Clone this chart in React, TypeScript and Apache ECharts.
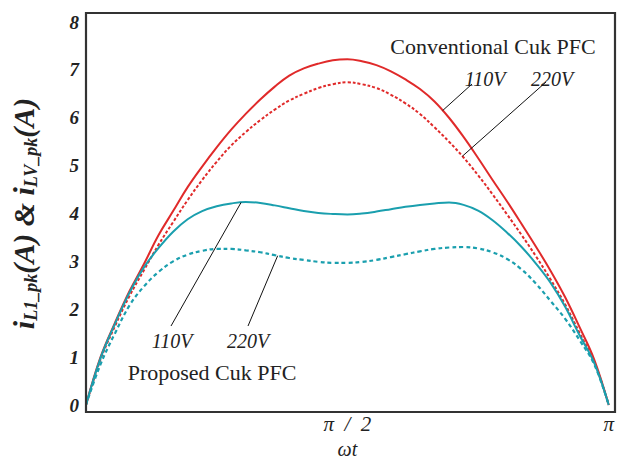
import React, { useEffect, useRef } from 'react';
import * as echarts from 'echarts';

// ωt in degrees (0 … 180 ⇒ 0 … π)
const angles = [0, 5, 10, 15, 20, 25, 30, 35, 40, 45, 50, 55, 60, 65, 70, 75, 80, 85, 90,
  95, 100, 105, 110, 115, 120, 125, 130, 135, 140, 145, 150, 155, 160, 165, 170, 175, 180];

// Conventional Cuk PFC, 110V (solid red)
const conv110 = [0, 1.0, 1.72, 2.38, 2.95, 3.55, 4.05, 4.55, 4.98, 5.38, 5.75, 6.08, 6.38, 6.65, 6.88, 7.03, 7.13, 7.2, 7.22,
  7.18, 7.1, 6.97, 6.8, 6.6, 6.34, 6.0, 5.6, 5.16, 4.7, 4.25, 3.78, 3.3, 2.8, 2.25, 1.62, 0.95, 0];
// Conventional Cuk PFC, 220V (dotted red)
const conv220 = [0, 0.95, 1.65, 2.28, 2.82, 3.35, 3.82, 4.28, 4.7, 5.08, 5.42, 5.7, 5.95, 6.17, 6.36, 6.5, 6.62, 6.7, 6.74,
  6.7, 6.62, 6.48, 6.3, 6.08, 5.8, 5.5, 5.17, 4.8, 4.4, 3.98, 3.55, 3.1, 2.62, 2.1, 1.5, 0.9, 0];
// Proposed Cuk PFC, 110V (solid teal)
const prop110 = [0, 0.98, 1.7, 2.35, 2.88, 3.28, 3.62, 3.88, 4.05, 4.15, 4.21, 4.24, 4.22, 4.17, 4.11, 4.05, 4.01, 3.99, 3.98,
  4.0, 4.04, 4.09, 4.14, 4.18, 4.21, 4.23, 4.18, 4.06, 3.86, 3.6, 3.3, 2.95, 2.55, 2.05, 1.45, 0.88, 0];
// Proposed Cuk PFC, 220V (dotted teal)
const prop220 = [0, 0.85, 1.5, 2.08, 2.48, 2.78, 3.0, 3.14, 3.22, 3.26, 3.26, 3.23, 3.19, 3.13, 3.07, 3.03, 2.99, 2.97, 2.97,
  2.99, 3.03, 3.09, 3.15, 3.21, 3.26, 3.29, 3.3, 3.27, 3.19, 3.05, 2.83, 2.53, 2.17, 1.8, 1.35, 0.85, 0];

const xTickLabels: Record<number, string> = { 0: '', 90: 'π  /  2', 180: 'π' };
const yTickLabels = ['0', '1', '2', '3', '4', '5', '6', '7', '8'];

const SERIF = '"Liberation Serif", "Times New Roman", Times, serif';
const RED = '#e02a2a';
const TEAL = '#1a9fae';

function pairs(vals: number[]) {
  return angles.map((a, i) => [a, vals[i]]);
}

function valueAt(vals: number[], a: number) {
  for (let i = 0; i < angles.length - 1; i++) {
    if (a >= angles[i] && a <= angles[i + 1]) {
      const t = (a - angles[i]) / (angles[i + 1] - angles[i]);
      return vals[i] + t * (vals[i + 1] - vals[i]);
    }
  }
  return vals[vals.length - 1];
}

export default function App() {
  const ref = useRef<HTMLDivElement>(null);

  useEffect(() => {
    if (!ref.current) return;
    const chart = echarts.init(ref.current, null, { renderer: 'svg' });
    const labelFont = { fontFamily: SERIF, fontStyle: 'italic' as const, fontWeight: 'bold' as const, color: '#222' };

    chart.setOption({
      animation: false,
      backgroundColor: '#fff',
      grid: { left: 86, right: 2, top: 22, bottom: 52, containLabel: false },
      xAxis: {
        type: 'value',
        min: 0,
        max: 180,
        interval: 90,
        name: 'ωt',
        nameLocation: 'middle',
        nameGap: 34,
        nameTextStyle: { fontFamily: SERIF, fontStyle: 'italic', fontSize: 20, color: '#222' },
        axisLine: { show: false },
        axisTick: { show: false },
        splitLine: { show: false },
        axisLabel: {
          margin: 8,
          fontFamily: SERIF,
          fontStyle: 'italic',
          fontSize: 21,
          color: '#222',
          formatter: (v: number) => xTickLabels[v] ?? '',
        },
      },
      yAxis: {
        type: 'value',
        min: 0,
        max: 8,
        interval: 1,
        name: '{m|i}{s|L1_pk}{m|(A) & i}{s|LV_pk}{m|(A)}',
        nameLocation: 'middle',
        nameRotate: 90,
        nameGap: 46,
        nameTextStyle: {
          ...labelFont,
          fontSize: 30,
          rich: {
            m: { ...labelFont, fontSize: 30, lineHeight: 32, verticalAlign: 'top', padding: [0, 0, 9, 0] },
            s: { ...labelFont, fontSize: 18, lineHeight: 21, verticalAlign: 'bottom' },
          },
        },
        axisLine: { show: false },
        axisTick: { show: false },
        splitLine: { show: false },
        axisLabel: {
          margin: 7,
          ...labelFont,
          fontSize: 19,
          formatter: (v: number) => yTickLabels[v] ?? '',
        },
      },
      series: [
        { name: 'Conventional 110V', type: 'line', data: pairs(conv110), smooth: 0.4, showSymbol: false,
          lineStyle: { color: RED, width: 2 } },
        { name: 'Conventional 220V', type: 'line', data: pairs(conv220), smooth: 0.4, showSymbol: false,
          lineStyle: { color: RED, width: 2, type: [3, 2] } },
        { name: 'Proposed 110V', type: 'line', data: pairs(prop110), smooth: 0.4, showSymbol: false,
          lineStyle: { color: TEAL, width: 2 } },
        { name: 'Proposed 220V', type: 'line', data: pairs(prop220), smooth: 0.4, showSymbol: false,
          lineStyle: { color: TEAL, width: 2.2, type: [4, 3] } },
      ],
    });

    const px = (vals: number[], a: number) =>
      chart.convertToPixel({ gridIndex: 0 }, [a, valueAt(vals, a)]) as number[];
    const pC110 = px(conv110, 122.8);
    const pC220 = px(conv220, 129.6);
    const pP110 = px(prop110, 53.4);
    const pP220 = px(prop220, 66);

    const txt = (x: number, y: number, text: string, italic: boolean) => ({
      type: 'text',
      x,
      y,
      z: 10,
      style: {
        text,
        fontFamily: SERIF,
        fontStyle: italic ? 'italic' : 'normal',
        fontSize: italic ? 20 : 22,
        fill: '#222',
        align: 'center',
        verticalAlign: 'middle',
      },
    });
    const leader = (x1: number, y1: number, x2: number, y2: number) => ({
      type: 'line',
      z: 10,
      shape: { x1, y1, x2, y2 },
      style: { stroke: '#111', lineWidth: 1 },
    });

    chart.setOption({
      graphic: [
        {
          type: 'rect',
          z: 5,
          shape: { x: 86, y: 13, width: 529, height: 399 },
          style: { fill: 'none', stroke: '#333', lineWidth: 2.2 },
        },
        txt(493, 46, 'Conventional Cuk PFC', false),
        txt(485, 79, '110V', true),
        txt(552, 79, '220V', true),
        leader(472, 84, pC110[0], pC110[1]),
        leader(546, 82, pC220[0], pC220[1]),
        txt(172, 341, '110V', true),
        txt(248, 341, '220V', true),
        txt(212, 372, 'Proposed Cuk PFC', false),
        leader(171, 326, pP110[0], pP110[1]),
        leader(248, 326, pP220[0], pP220[1]),
      ],
    });

    return () => chart.dispose();
  }, []);

  return <div ref={ref} style={{ position: 'absolute', left: 0, top: 0, width: 617, height: 464 }} />;
}
